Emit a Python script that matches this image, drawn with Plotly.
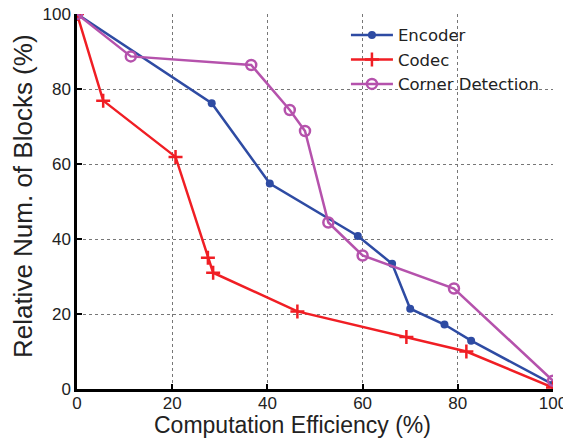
import plotly.graph_objects as go

enc_x = [0, 28.3, 40.5, 59.0, 66.2, 70.0, 77.2, 82.8, 100]
enc_y = [100, 76.2, 54.8, 40.8, 33.4, 21.4, 17.2, 12.9, 1.2]
cod_x = [0, 5.5, 20.7, 27.5, 28.6, 46.3, 69.2, 81.8, 100]
cod_y = [100, 76.9, 61.9, 35.0, 31.0, 20.7, 13.9, 10.0, 0.4]
cor_x = [0, 11.3, 36.6, 44.7, 47.9, 52.8, 60.0, 79.2, 100]
cor_y = [100, 88.7, 86.4, 74.4, 68.8, 44.4, 35.6, 26.8, 2.2]
ticks = [0, 20, 40, 60, 80, 100]
x_title = "Computation Efficiency (%)"
y_title = "Relative Num. of Blocks (%)"

fig = go.Figure()
fig.add_trace(go.Scatter(x=enc_x, y=enc_y, name="Encoder", mode="lines+markers",
                         line=dict(color="#2E4BA3", width=2.5),
                         marker=dict(symbol="circle", size=8, color="#2E4BA3")))
fig.add_trace(go.Scatter(x=cod_x, y=cod_y, name="Codec", mode="lines+markers",
                         line=dict(color="#F01E24", width=2.5),
                         marker=dict(symbol="cross-thin", size=10,
                                     line=dict(color="#F01E24", width=2.5))))
fig.add_trace(go.Scatter(x=cor_x, y=cor_y, name="Corner Detection", mode="lines+markers",
                         line=dict(color="#B552AC", width=2.5),
                         marker=dict(symbol="circle-open", size=10,
                                     line=dict(color="#B552AC", width=2.5))))

axis_common = dict(range=[0, 100], tickvals=ticks, showgrid=True, gridcolor="#777",
                   griddash="dot", gridwidth=1, showline=True, linecolor="black",
                   linewidth=2.5, ticks="inside", ticklen=5, tickcolor="black",
                   tickwidth=2, zeroline=False, automargin=False,
                   ticklabeloverflow="allow",
                   tickfont=dict(size=17, color="#222"))
fig.update_xaxes(**axis_common, ticklabelstandoff=-3)
fig.update_yaxes(**axis_common)

fig.add_annotation(text=x_title, xref="paper", yref="paper", x=0.452, y=-0.095,
                   xanchor="center", yanchor="middle", showarrow=False,
                   font=dict(size=23, color="#222"))
fig.add_annotation(text=y_title, xref="paper", yref="paper", x=-0.113, y=0.515,
                   xanchor="center", yanchor="middle", showarrow=False, textangle=-90,
                   font=dict(size=26, color="#222"))

fig.update_layout(width=563, height=431, margin=dict(l=69, r=18, t=6, b=50),
                  plot_bgcolor="white", paper_bgcolor="white",
                  font=dict(family="Liberation Sans, Arial, sans-serif", color="#222"),
                  legend=dict(x=0.565, y=0.99, xanchor="left", yanchor="top",
                              bgcolor="rgba(0,0,0,0)",
                              font=dict(size=16.5, family="DejaVu Sans, sans-serif"),
                              itemwidth=42, tracegroupgap=0))
fig.write_html("out.html")
